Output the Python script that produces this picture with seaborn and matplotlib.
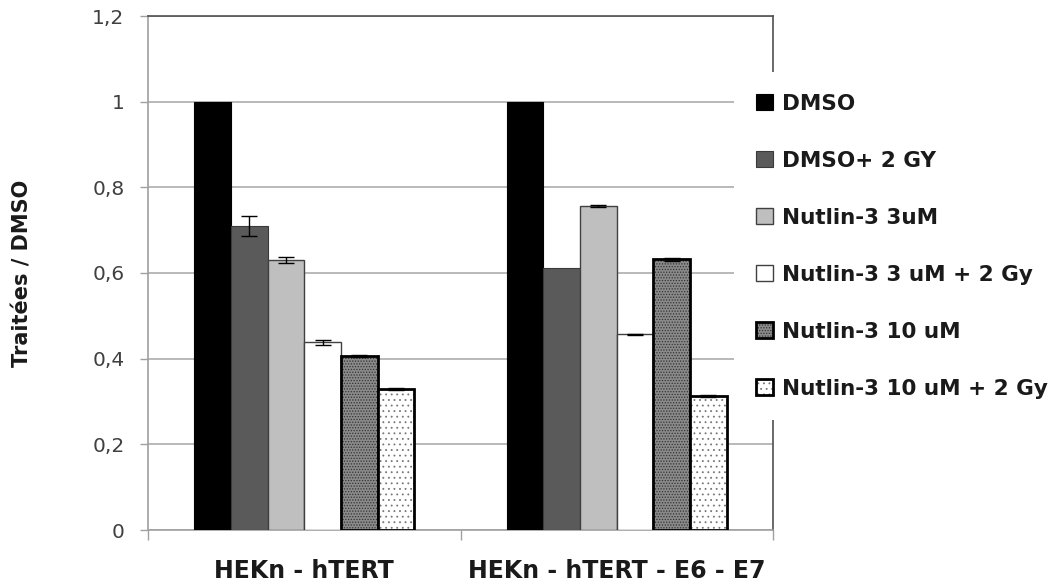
import matplotlib
matplotlib.use("Agg")
import matplotlib.pyplot as plt
import seaborn as sns
import pandas as pd
from matplotlib.container import BarContainer
from matplotlib.ticker import FixedLocator, FuncFormatter

# ---- data ----
groups = ["HEKn - hTERT", "HEKn - hTERT - E6 - E7"]
treatments = ["DMSO", "DMSO+ 2 GY", "Nutlin-3 3uM", "Nutlin-3 3 uM + 2 Gy",
              "Nutlin-3 10 uM", "Nutlin-3 10 uM + 2 Gy"]
values_hekn = [1.0, 0.710, 0.631, 0.438, 0.406, 0.330]
values_e6e7 = [1.0, 0.611, 0.756, 0.457, 0.632, 0.313]
errors_hekn = [0.0, 0.024, 0.007, 0.006, 0.002, 0.002]
errors_e6e7 = [0.0, 0.0, 0.003, 0.001, 0.004, 0.002]
yticks = [0, 0.2, 0.4, 0.6, 0.8, 1.0, 1.2]
ylabel = "Traitées / DMSO"

# ---- styles ----
facecolors = ["#000000", "#5a5a5a", "#bfbfbf", "#ffffff", "#8a8a8a", "#ffffff"]
edgecolors = ["#000000", "#3a3a3a", "#404040", "#404040", "#000000", "#000000"]
linewidths = [0.8, 0.8, 1.0, 1.0, 2.0, 2.0]
hatches = [None, None, None, None, "......", "..."]
hatchcolors = [None, None, None, None, "#333333", "#777777"]

df = pd.DataFrame({
    "group": [g for g in groups for _ in treatments],
    "treatment": treatments * len(groups),
    "value": values_hekn + values_e6e7,
    "err": errors_hekn + errors_e6e7,
})

sns.set_style("white")
plt.rcParams["font.family"] = ["DejaVu Sans"]
plt.rcParams["hatch.linewidth"] = 0.6

fig = plt.figure(figsize=(10.63, 5.84), dpi=100)
ax = fig.add_axes([148 / 1063, 1 - 530 / 584, 625 / 1063, 514 / 584])

sns.barplot(data=df, x="group", y="value", hue="treatment", order=groups,
            hue_order=treatments, palette=dict(zip(treatments, facecolors)),
            saturation=1, errorbar=None, width=0.704, gap=0, legend=False, ax=ax)

bar_containers = [c for c in ax.containers if isinstance(c, BarContainer)]

# style each hue container and add error bars at the library's bar positions
for i, cont in enumerate(bar_containers):
    for p in cont.patches:
        p.set_facecolor(facecolors[i])
        p.set_edgecolor(edgecolors[i])
        p.set_linewidth(linewidths[i])
        p.set_zorder(3)
        if hatches[i]:
            p.set_hatch(hatches[i])
            p._hatch_color = matplotlib.colors.to_rgba(hatchcolors[i])
    sub = df[df["treatment"] == treatments[i]].set_index("group").loc[groups]
    xs = [p.get_x() + p.get_width() / 2 for p in cont.patches]
    ys = [p.get_height() for p in cont.patches]
    errs = sub["err"].tolist()
    mask = [e > 0 for e in errs]
    if any(mask):
        ax.errorbar([x for x, m in zip(xs, mask) if m], [y for y, m in zip(ys, mask) if m],
                    yerr=[e for e, m in zip(errs, mask) if m], fmt="none", ecolor="black",
                    elinewidth=1.0, capsize=5.5, capthick=1.0, zorder=4)

ax.set_ylim(0, 1.2)
ax.set_xlim(-0.5, 1.5)
ax.yaxis.set_major_locator(FixedLocator(yticks))
ax.yaxis.set_major_formatter(FuncFormatter(lambda v, _: f"{v:g}".replace(".", ",")))
ax.grid(axis="y", color="#b3b3b3", linewidth=1.3, zorder=0)
ax.set_axisbelow(True)

ax.tick_params(axis="y", which="major", length=6, width=1, color="#a0a0a0",
               labelsize=14.5, labelcolor="#404040", pad=11, left=True, direction="out")
ax.tick_params(axis="x", which="major", length=0, labelsize=17, pad=21)
ax.xaxis.set_minor_locator(FixedLocator([-0.5, 0.5, 1.5]))
ax.tick_params(axis="x", which="minor", length=7, width=1, color="#a0a0a0",
               bottom=True, direction="out")
for lab in ax.get_xticklabels():
    lab.set_fontweight("bold")
    lab.set_color("#1a1a1a")

ax.set_xlabel("")
ax.set_ylabel(ylabel, fontsize=15, fontweight="bold", color="#1a1a1a")
ax.yaxis.set_label_coords(-0.184, 0.5)

for side in ["left", "bottom"]:
    ax.spines[side].set_color("#a0a0a0")
    ax.spines[side].set_linewidth(1.2)
for side in ["top", "right"]:
    ax.spines[side].set_visible(True)
    ax.spines[side].set_color("#505050")
    ax.spines[side].set_linewidth(1.2)

handles = [c.patches[0] for c in bar_containers]
leg = ax.legend(handles, treatments, loc="upper left",
                bbox_to_anchor=(734 / 1063, 1 - 72 / 584), bbox_transform=fig.transFigure,
                frameon=True, facecolor="white", edgecolor="none", framealpha=1,
                prop={"size": 15.5, "weight": "bold"}, handlelength=0.8, handleheight=0.8,
                labelspacing=1.72, borderpad=1.0, handletextpad=0.45, borderaxespad=0)
for t in leg.get_texts():
    t.set_color("#1a1a1a")
leg.set_zorder(10)

fig.savefig("out.png", dpi=100)
